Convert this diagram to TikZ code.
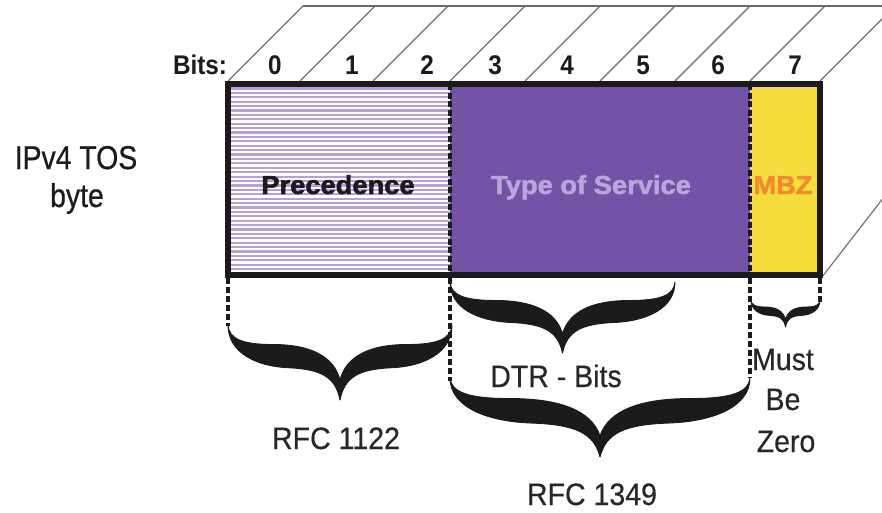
\documentclass[tikz,border=0pt]{standalone}
\usepackage{fontspec}
\setmainfont{Liberation Sans}
\newfontfamily\labelfont[FakeStretch=0.92,FakeBold=0.3]{Liberation Sans}
\newfontfamily\titlefont[FakeStretch=0.86,FakeBold=0.6]{Liberation Sans}
\newfontfamily\bitsfont[FakeStretch=0.9]{Liberation Sans}
\newfontfamily\heavyfont[FakeStretch=1.05,FakeBold=1.8]{Liberation Sans}

\definecolor{tospurple}{RGB}{115,83,165}
\definecolor{tostext}{RGB}{184,166,222}
\definecolor{stripepurple}{RGB}{180,162,219}
\definecolor{mbzyellow}{RGB}{246,221,62}
\definecolor{mbzorange}{RGB}{242,138,46}
\definecolor{boxblack}{RGB}{28,26,26}
\definecolor{diaggray}{RGB}{112,104,104}
\definecolor{labelgray}{RGB}{40,38,38}

\tikzset{
  every node/.style={inner sep=0pt, outer sep=0pt},
  field/.style={anchor=north west, minimum height=191pt, draw=none},
  diag/.style={draw=diaggray, line width=1.1pt},
  stripe/.style={draw=stripepurple, line width=2.2pt},
  divider/.style={draw=boxblack, line width=3.4pt, dash pattern=on 6pt off 2.6pt},
  lead/.style={draw=boxblack, line width=3.2pt, dash pattern=on 6pt off 3pt},
  bracefill/.style={fill=boxblack, draw=boxblack, line width=0.9pt, line join=round},
  graylabel/.style={anchor=base, text=labelgray, font=\labelfont\fontsize{31}{36}\selectfont},
  titlelabel/.style={anchor=base, text=boxblack, font=\titlefont\fontsize{33}{38}\selectfont},
  bitlabel/.style={anchor=base, text=boxblack, font=\bitsfont\bfseries\fontsize{27}{30}\selectfont},
  heavylabel/.style={anchor=base, font=\heavyfont\bfseries\fontsize{26}{30}\selectfont},
}

% curly brace drawn as a filled, tapered shape: left x, right x, top y, tip y
\newcommand\drawcurlybrace[4]{%
  \pgfmathsetmacro\bracew{#2-#1}%
  \pgfmathsetmacro\braceh{#4-#3}%
  \begin{scope}[shift={(#1,#3)}, x=\bracew pt, y=-\braceh pt]
    \path[bracefill] (0,0)
      .. controls (0.005,0.18) and (0.06,0.26) .. (0.2,0.26)
      .. controls (0.36,0.26) and (0.47,0.4) .. (0.5,0.73)
      .. controls (0.53,0.4) and (0.64,0.26) .. (0.8,0.26)
      .. controls (0.94,0.26) and (0.995,0.18) .. (1,0)
      .. controls (1,0.36) and (0.88,0.55) .. (0.73,0.57)
      .. controls (0.58,0.59) and (0.52,0.7) .. (0.5,1)
      .. controls (0.48,0.7) and (0.42,0.59) .. (0.27,0.57)
      .. controls (0.12,0.55) and (0,0.36) .. (0,0) -- cycle;
  \end{scope}}

\begin{document}
\begin{tikzpicture}[x=1pt, y=-1pt]
  \useasboundingbox (0,0) rectangle (882,513);
  \fill[white] (0,0) rectangle (882,513);
  \clip (0,0) rectangle (882,513);

  % top face of the byte: slanted bit separators and back edge
  \foreach \bx in {228,300,373,450,525,600,675,750,820}
    \draw[diag] (\bx,81) -- ++(75,-75);
  \draw[diag] (303,6) -- (884,6);
  % right face edge
  \draw[diag] (822,277) -- (884,197);

  % the three fields of the TOS byte
  \node[field, fill=white, minimum width=222pt] (prec) at (228,84) {};
  \node[field, fill=tospurple, minimum width=300pt] (tos) at (450,84) {};
  \node[field, fill=mbzyellow, minimum width=70pt] (mbz) at (750,84) {};

  % striped fill of the precedence field
  \foreach \k in {0,...,41}
    \draw[stripe] (231,88.6+4.4*\k) -- (450,88.6+4.4*\k);

  % field separators
  \draw[divider] (tos.north west) -- (tos.south west);
  \draw[divider] (mbz.north west) -- (mbz.south west);

  % outer frame
  \draw[line width=6pt, draw=boxblack] (prec.north west) rectangle (mbz.south east);

  % field names
  \node[heavylabel, text=boxblack] (prectext) at (338,194) {Precedence};
  \node[heavylabel, text=tostext] (tostext) at (591,194) {Type of Service};
  \node[heavylabel, text=mbzorange] (mbztext) at (783,194) {MBZ};

  % bit numbers
  \node[bitlabel] (bitslbl) at (200,75) {Bits:};
  \foreach \bx/\bn in {275/0,352/1,427/2,495/3,567/4,643/5,718/6,795/7}
    \node[bitlabel] (bit\bn) at (\bx,75) {\bn};

  % title
  \node[titlelabel] (title1) at (76,169) {IPv4 TOS};
  \node[titlelabel] (title2) at (77,207) {byte};

  % dashed leaders below the frame
  \coordinate (l0) at (228,326);
  \coordinate (l3) at (450,381);
  \coordinate (l7) at (750,378);
  \coordinate (l8) at (820,302);
  \draw[lead] (prec.south west) ++(0,3) -- (l0);
  \draw[lead] (tos.south west) ++(0,3) -- (l3);
  \draw[lead] (mbz.south west) ++(0,3) -- (l7);
  \draw[lead] (mbz.south east) ++(0,3) -- (l8);

  % braces
  \drawcurlybrace{228}{452}{325}{400}
  \drawcurlybrace{450}{675}{282}{353}
  \drawcurlybrace{450}{750}{378}{457}
  \drawcurlybrace{751}{820}{300}{327}

  % brace labels
  \node[graylabel] (rfc1122) at (336,449) {RFC 1122};
  \node[graylabel] (dtr) at (556,387) {DTR - Bits};
  \node[graylabel] (rfc1349) at (592,505) {RFC 1349};
  \node[graylabel] (must) at (783,370) {Must};
  \node[graylabel] (be) at (783,410) {Be};
  \node[graylabel] (zero) at (786,452) {Zero};
\end{tikzpicture}
\end{document}
